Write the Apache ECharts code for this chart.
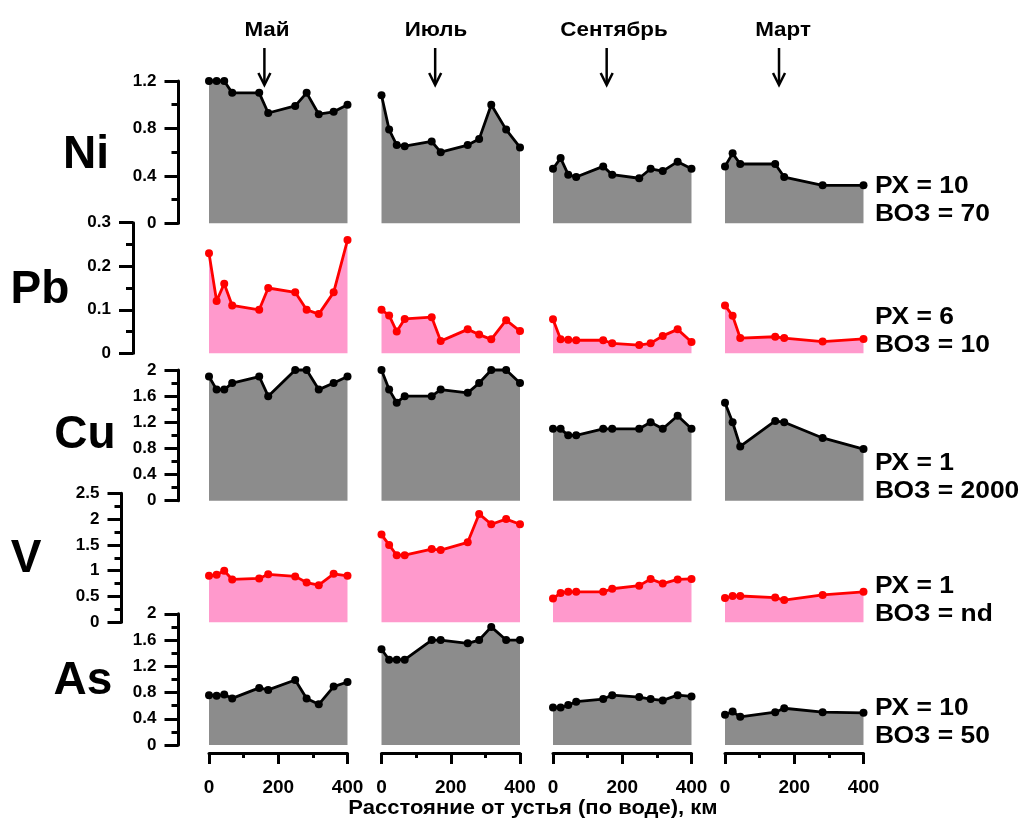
<!DOCTYPE html>
<html><head><meta charset="utf-8">
<script src="https://cdn.jsdelivr.net/npm/echarts@6/dist/echarts.min.js"></script>
<style>html,body{margin:0;padding:0;background:#fff}#c{width:1019px;height:820px}</style>
</head><body><div id="c"></div>
<script>
// ---- data ----
const stations = [0, 22, 44, 67, 145, 171, 249, 282, 317, 360, 400];
const stationsMar = [0, 22, 44, 145, 171, 282, 400];
const months = ['Май', 'Июль', 'Сентябрь', 'Март'];
const elements = ['Ni', 'Pb', 'Cu', 'V', 'As'];
const xTicks = [0, 200, 400];
const arrowKm = [160, 155, 155, 156];

const niMay = [1.2, 1.2, 1.2, 1.1, 1.1, 0.93, 0.99, 1.1, 0.92, 0.94, 1.0];
const niJul = [1.08, 0.79, 0.66, 0.65, 0.69, 0.6, 0.66, 0.71, 1.0, 0.79, 0.64];
const niSep = [0.46, 0.55, 0.41, 0.39, 0.48, 0.41, 0.38, 0.46, 0.44, 0.52, 0.46];
const niMar = [0.48, 0.59, 0.5, 0.5, 0.39, 0.32, 0.32];

const pbMay = [0.23, 0.12, 0.16, 0.11, 0.1, 0.15, 0.14, 0.1, 0.09, 0.14, 0.26];
const pbJul = [0.1, 0.087, 0.05, 0.079, 0.083, 0.028, 0.055, 0.043, 0.032, 0.076, 0.051];
const pbSep = [0.078, 0.032, 0.031, 0.03, 0.03, 0.023, 0.019, 0.023, 0.04, 0.055, 0.026];
const pbMar = [0.11, 0.086, 0.035, 0.038, 0.035, 0.027, 0.033];

const cuMay = [1.9, 1.7, 1.7, 1.8, 1.9, 1.6, 2.0, 2.0, 1.7, 1.8, 1.9];
const cuJul = [2.0, 1.7, 1.5, 1.6, 1.6, 1.7, 1.65, 1.8, 2.0, 2.0, 1.8];
const cuSep = [1.1, 1.1, 1.0, 1.0, 1.1, 1.1, 1.1, 1.2, 1.1, 1.3, 1.1];
const cuMar = [1.5, 1.2, 0.83, 1.22, 1.2, 0.96, 0.79];

const vMay = [0.9, 0.92, 1.0, 0.83, 0.85, 0.93, 0.89, 0.77, 0.72, 0.94, 0.9];
const vJul = [1.7, 1.5, 1.3, 1.3, 1.42, 1.4, 1.55, 2.1, 1.9, 2.0, 1.9];
const vSep = [0.46, 0.57, 0.59, 0.59, 0.59, 0.65, 0.71, 0.84, 0.75, 0.83, 0.84];
const vMar = [0.47, 0.51, 0.51, 0.48, 0.43, 0.53, 0.59];

const asMay = [0.76, 0.75, 0.77, 0.71, 0.87, 0.84, 0.99, 0.71, 0.62, 0.89, 0.96];
const asJul = [1.46, 1.3, 1.3, 1.3, 1.6, 1.6, 1.55, 1.6, 1.8, 1.6, 1.6];
const asSep = [0.57, 0.57, 0.61, 0.66, 0.7, 0.76, 0.73, 0.7, 0.68, 0.76, 0.74];
const asMar = [0.46, 0.51, 0.43, 0.5, 0.56, 0.5, 0.49];

const yMax = [1.2, 0.3, 2, 2.5, 2];
const yInterval = [0.4, 0.1, 0.4, 0.5, 0.4];
const rxLabels = ['РХ = 10', 'РХ = 6', 'РХ = 1', 'РХ = 1', 'РХ = 10'];
const vozLabels = ['ВОЗ = 70', 'ВОЗ = 10', 'ВОЗ = 2000', 'ВОЗ = nd', 'ВОЗ = 50'];
const xTitle = 'Расстояние от устья (по воде), км';

// ---- layout / style ----
const FONT = '"Liberation Sans", Arial, sans-serif';
const colLeft = [209, 381.5, 553, 725];
const colWidth = 138.5;
const rowTop = [81, 222.7, 370, 493.3, 613.8];
const rowBottom = [223.3, 353.3, 500.7, 622.3, 745];
const yOffset = [30.5, 76, 30.5, 87.5, 30.5];
const rowRed = [false, true, false, true, false];
const rowNamePos = [[86, 155], [40, 290], [85, 435], [26, 559], [83, 681]];
const rxY = [186, 317, 463, 586, 708];
const monthX = [267, 436, 614, 783];

const table = [
  [niMay, niJul, niSep, niMar],
  [pbMay, pbJul, pbSep, pbMar],
  [cuMay, cuJul, cuSep, cuMar],
  [vMay, vJul, vSep, vMar],
  [asMay, asJul, asSep, asMar]
];

const grids = [], xAxes = [], yAxes = [], series = [];
for (let r = 0; r < 5; r++) {
  for (let c = 0; c < 4; c++) {
    const gi = r * 4 + c;
    grids.push({left: colLeft[c], top: rowTop[r], width: colWidth,
      height: rowBottom[r] - rowTop[r], outerBoundsMode: 'none', containLabel: false});
    const showX = r === 4;
    xAxes.push({
      type: 'value', gridIndex: gi, min: xTicks[0], max: xTicks[xTicks.length - 1],
      interval: xTicks[1] - xTicks[0], show: showX, offset: 8, position: 'bottom',
      axisLine: {show: true, onZero: false, lineStyle: {color: '#000', width: 3}},
      axisTick: {show: true, length: 11, lineStyle: {color: '#000', width: 3}},
      minorTick: {show: true, splitNumber: 2, length: 5, lineStyle: {color: '#000', width: 3}},
      axisLabel: {show: true, color: '#000', fontSize: 19, fontWeight: 'bold', fontFamily: FONT,
        margin: 25, showMinLabel: true, showMaxLabel: true},
      splitLine: {show: false}, minorSplitLine: {show: false}
    });
    const showY = c === 0;
    yAxes.push({
      type: 'value', gridIndex: gi, min: 0, max: yMax[r], interval: yInterval[r],
      show: showY, offset: yOffset[r], position: 'left',
      axisLine: {show: true, onZero: false, lineStyle: {color: '#000', width: 3}},
      axisTick: {show: true, length: 14, lineStyle: {color: '#000', width: 3}},
      minorTick: {show: true, splitNumber: 2, length: 7, lineStyle: {color: '#000', width: 3}},
      axisLabel: {show: true, color: '#000', fontSize: 17, fontWeight: 'bold', fontFamily: FONT,
        margin: 22, showMinLabel: true, showMaxLabel: true},
      splitLine: {show: false}, minorSplitLine: {show: false}
    });
    const xs = c === 3 ? stationsMar : stations;
    const vals = table[r][c];
    const lineColor = rowRed[r] ? '#ff0000' : '#000000';
    const fillColor = rowRed[r] ? '#ff99cc' : '#8c8c8c';
    series.push({
      type: 'line', xAxisIndex: gi, yAxisIndex: gi,
      data: xs.map((x, j) => [x, vals[j]]),
      symbol: 'circle', symbolSize: 8, showSymbol: true, clip: false, silent: true,
      lineStyle: {color: lineColor, width: 2.8},
      itemStyle: {color: lineColor, borderWidth: 0},
      areaStyle: {color: fillColor, opacity: 1},
      z: 2
    });
  }
}

const chart = echarts.init(document.getElementById('c'), null, {renderer: 'canvas'});
chart.setOption({
  animation: false,
  backgroundColor: '#ffffff',
  grid: grids, xAxis: xAxes, yAxis: yAxes, series: series
});

function txt(text, x, y, size, align, sx) {
  return {type: 'text', x: x, y: y, scaleX: sx || 1, scaleY: 1,
    style: {text: text, x: 0, y: 0, textAlign: align, textVerticalAlign: 'middle',
      fill: '#000', font: 'bold ' + size + 'px ' + FONT}};
}
const g = [];
for (let r = 0; r < 5; r++) {
  g.push(txt(elements[r], rowNamePos[r][0], rowNamePos[r][1], 46, 'center', 1));
  g.push(txt(rxLabels[r], 875, rxY[r], 24, 'left', 1.1));
  g.push(txt(vozLabels[r], 875, rxY[r] + 28, 24, 'left', 1.1));
}
for (let c = 0; c < 4; c++) {
  g.push(txt(months[c], monthX[c], 30, 20, 'center', 1.12));
  const px = chart.convertToPixel({xAxisIndex: c}, arrowKm[c]);
  g.push({type: 'line', shape: {x1: px, y1: 48, x2: px, y2: 84},
    style: {stroke: '#000', lineWidth: 2.5}});
  g.push({type: 'polyline', shape: {points: [[px - 6, 73], [px, 85], [px + 6, 73]]},
    style: {stroke: '#000', lineWidth: 2.5, fill: null}});
}
g.push(txt(xTitle, 533, 808, 20, 'center', 1.1));
chart.setOption({graphic: g});
</script>
</body></html>
